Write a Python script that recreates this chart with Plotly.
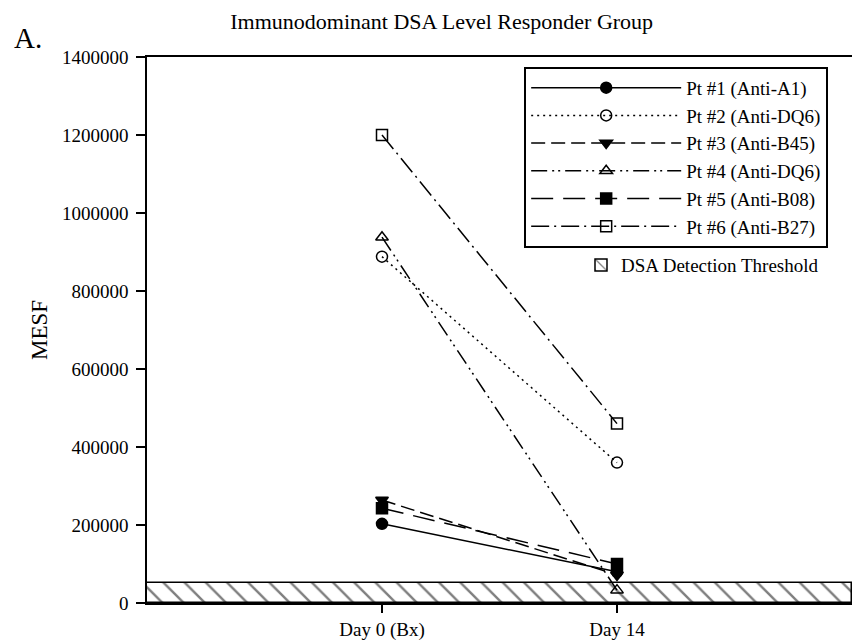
import plotly.graph_objects as go

# ---- data ----
days = ["Day 0 (Bx)", "Day 14"]
day_pos = [0, 1]
patients = ["Pt #1 (Anti-A1)", "Pt #2 (Anti-DQ6)", "Pt #3 (Anti-B45)",
            "Pt #4 (Anti-DQ6)", "Pt #5 (Anti-B08)", "Pt #6 (Anti-B27)"]
day0_mesf = [203000, 888000, 264000, 938000, 243000, 1200000]
day14_mesf = [80000, 360000, 72000, 33000, 100000, 460000]
threshold = 52000
threshold_label = "DSA Detection Threshold"
y_ticks = [0, 200000, 400000, 600000, 800000, 1000000, 1200000, 1400000]

# ---- styles ----
symbols = ["circle", "circle-open", "triangle-down", "triangle-up-open", "square", "square-open"]
dashes = ["solid", "2px,4px", "14px,6px", "16px,5px,2px,4px,2px,5px", "22px,10px", "18px,5px,2px,5px"]
FONT = "Liberation Serif"

fig = go.Figure()

fig.add_trace(go.Bar(
    x=[0.5], y=[threshold], base=[0], width=[3],
    marker=dict(color="white", line=dict(color="black", width=1.5),
                pattern=dict(shape="\\", fgcolor="black", bgcolor="white", size=15, solidity=0.16)),
    name=threshold_label, legend="legend2", showlegend=True,
))

for i, p in enumerate(patients):
    fig.add_trace(go.Scatter(
        x=day_pos, y=[day0_mesf[i], day14_mesf[i]], mode="lines+markers", name=p,
        line=dict(color="black", width=1.5, dash=dashes[i]),
        marker=dict(symbol=symbols[i], size=11, color="black",
                    line=dict(color="black", width=1.5)),
    ))

fig.update_layout(
    width=852, height=641,
    margin=dict(l=147, r=0, t=57, b=38),
    paper_bgcolor="white", plot_bgcolor="white",
    font=dict(family=FONT, size=19, color="black"),
    title=dict(text="Immunodominant DSA Level Responder Group", font=dict(size=22),
               xref="paper", x=0.418, xanchor="center", yref="container", y=0.966, yanchor="middle"),
    showlegend=True,
    legend=dict(x=0.535, y=0.982, xanchor="left", yanchor="top", bordercolor="black", borderwidth=2,
                bgcolor="white", itemwidth=150, font=dict(size=19), tracegroupgap=0),
    legend2=dict(x=0.6156, y=0.619, xanchor="left", yanchor="middle", borderwidth=0,
                 bgcolor="rgba(0,0,0,0)", font=dict(size=19)),
    bargap=0,
)

fig.update_xaxes(range=[-1, 2], tickvals=day_pos, ticktext=days, showline=True, linecolor="black",
                 linewidth=1.5, mirror=True, ticks="outside", ticklen=8, tickwidth=1.5,
                 tickcolor="black", showgrid=False, zeroline=False, fixedrange=True)
fig.update_yaxes(range=[0, 1400000], tickvals=y_ticks, ticktext=[str(v) for v in y_ticks],
                 showline=True, linecolor="black", linewidth=1.5, ticks="outside", ticklen=9,
                 tickwidth=1.5, tickcolor="black", showgrid=False, zeroline=False,
                 title=dict(text="MESF", standoff=8), ticklabelstandoff=4)

fig.add_annotation(text="A.", xref="paper", yref="paper", x=-0.1915, y=1.035,
                   xanchor="left", yanchor="middle", showarrow=False, font=dict(size=29))

fig.write_html("out.html")
